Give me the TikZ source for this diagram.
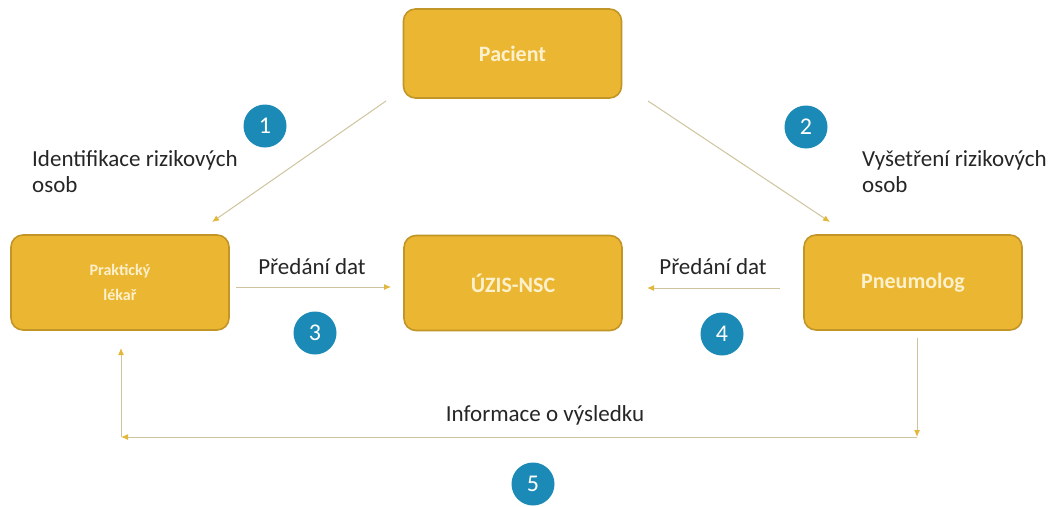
\documentclass[tikz,border=0pt]{standalone}
\usepackage{fontspec}
\setmainfont{Carlito}
\usetikzlibrary{arrows.meta}
\definecolor{boxfill}{HTML}{EBB631}
\definecolor{boxline}{HTML}{C29527}
\definecolor{numblue}{HTML}{1C8AB6}
\definecolor{arrowcol}{HTML}{CFC49E}
\definecolor{arrowtip}{HTML}{E3B83A}
\definecolor{boxtext}{HTML}{FCF1CC}
\begin{document}
\begin{tikzpicture}[x=1pt,y=-1pt,
  box/.style={draw=boxline, line width=1.6pt, fill=boxfill, rounded corners=12pt,
    minimum width=218pt, minimum height=95pt, inner sep=0pt, align=center,
    text=boxtext, font=\fontsize{22}{24}\selectfont\bfseries},
  smallbox/.style={box, font=\fontsize{16}{25}\selectfont\bfseries},
  num/.style={circle, fill=numblue, minimum size=43pt, inner sep=0pt,
    text=white, font=\fontsize{24}{24}\selectfont},
  lbl/.style={inner sep=0pt, font=\fontsize{23}{26}\selectfont, text=black!85},
  conn/.style={draw=arrowcol, line width=1pt, -{Latex[length=7pt,width=6pt,color=arrowtip]}}
]
\useasboundingbox[fill=white] (0,0) rectangle (1048,506);

\node[box, minimum height=89pt] (pac) at (512.5,53.5) {Pacient};
\node[smallbox] (prak) at (120,282.5) {Praktický\\lékař};
\node[box] (uzis) at (513,283) {ÚZIS-NSC};
\node[box] (pneu) at (913,282.5) {Pneumolog};

\node[num] (n1) at (265,126) {1};
\node[num] (n2) at (806,127) {2};
\node[num] (n3) at (315,333) {3};
\node[num] (n4) at (722,334) {4};
\node[num] (n5) at (533,484) {5};

\node[lbl, anchor=base west, align=left] (t1) at (32,192) {Identifikace rizikových\\osob};
\node[lbl, anchor=base west, align=left] (t2) at (862,192) {Vyšetření rizikových\\osob};
\node[lbl, anchor=base] (t3) at (312,274) {Předání dat};
\node[lbl, anchor=base] (t4) at (713,274) {Předání dat};
\node[lbl, anchor=base] (t5) at (545,421) {Informace o výsledku};

\coordinate (a1s) at (386,101);
\coordinate (a1e) at (212,222);
\coordinate (a2s) at (648,101);
\coordinate (a2e) at (830,222);
\draw[conn] (a1s) -- (a1e);
\draw[conn] (a2s) -- (a2e);
\coordinate (a3s) at (236,287);
\coordinate (a3e) at (391,287);
\draw[conn] (a3s) -- (a3e);
\coordinate (a4s) at (780,288);
\coordinate (a4e) at (647,288);
\draw[conn] (a4s) -- (a4e);

\coordinate (b1) at (917,338);
\coordinate (b2) at (917,437);
\coordinate (b3) at (121,437);
\coordinate (b4) at (121,348);
\draw[conn] (b1) -- (b2);
\draw[conn] (b2) -- (b3);
\draw[conn] (b3) -- (b4);
\end{tikzpicture}
\end{document}
